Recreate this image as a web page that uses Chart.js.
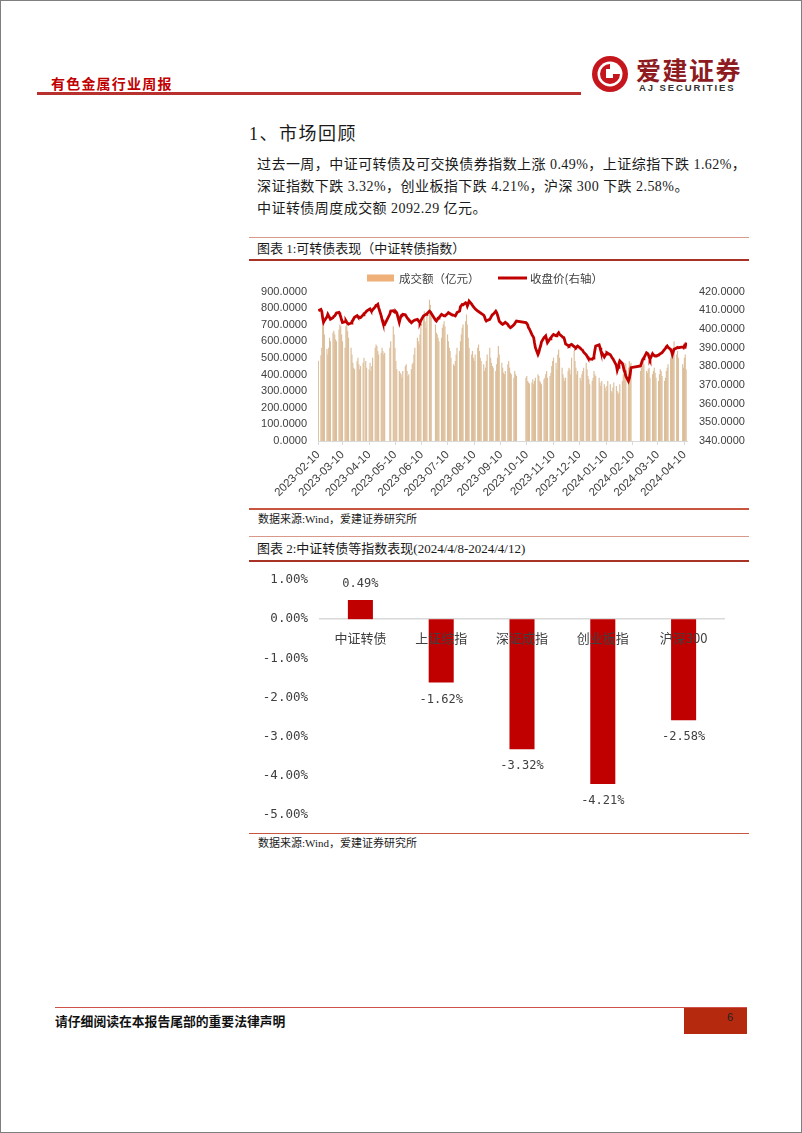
<!DOCTYPE html>
<html><head><meta charset="utf-8">
<script src="https://cdn.jsdelivr.net/npm/chart.js@4.4.0/dist/chart.umd.min.js"></script>
<style>
html,body{margin:0;padding:0;background:#fff;}
#page{position:absolute;left:0;top:0;width:800px;height:1131px;border:1px solid #7f7f7f;background:#fff;overflow:hidden;font-family:"Liberation Serif","Noto Sans CJK SC",serif;color:#1a1a1a;}
.a{position:absolute;white-space:nowrap;}
.cjk{font-family:"Noto Sans CJK SC",sans-serif;}
</style></head>
<body><div id="page">
<!-- header -->
<div class="a cjk" style="left:50px;top:73px;font-size:14px;line-height:18px;font-weight:700;color:#C00000;letter-spacing:1.2px;">有色金属行业周报</div>
<div class="a" style="left:36px;top:91px;width:544px;height:3px;background:#B8312F;"></div>
<svg class="a" style="left:590px;top:54px;" width="38" height="38" viewBox="0 0 38 38">
<circle cx="19" cy="19" r="18" fill="#C4161C"/>
<circle cx="19" cy="19" r="12.5" fill="#fff"/>
<path d="M19 9 A10 10 0 1 0 29 19 L22 19 L22 23 L15 23 L15 14 L19 14 Z" fill="#C4161C"/>
<rect x="18" y="17" width="3" height="3" fill="#fff"/>
</svg>
<div class="a cjk" style="left:635px;top:54px;font-size:25px;line-height:28px;font-weight:700;color:#8E1B1F;letter-spacing:1.5px;">爱建证券</div>
<div class="a" style="left:638px;top:81px;font-family:'Liberation Sans';font-size:9.5px;line-height:12px;font-weight:700;color:#333;letter-spacing:1.9px;">AJ SECURITIES</div>

<!-- section -->
<div class="a" style="left:248px;top:122px;font-size:18px;line-height:22px;letter-spacing:1.5px;">1、市场回顾</div>
<div class="a" style="left:256px;top:153px;font-size:14px;line-height:22px;letter-spacing:0.45px;">过去一周，中证可转债及可交换债券指数上涨 0.49%，上证综指下跌 1.62%，<br>深证指数下跌 3.32%，创业板指下跌 4.21%，沪深 300 下跌 2.58%。<br>中证转债周度成交额 2092.29 亿元。</div>

<!-- chart 1 header -->
<div class="a" style="left:248px;top:236px;width:500px;height:1px;background:#D9998A;"></div>
<div class="a" style="left:256px;top:240px;font-size:13px;line-height:16px;">图表 1:可转债表现（中证转债指数）</div>
<div class="a" style="left:248px;top:258px;width:500px;height:2px;background:#A93226;"></div>
<canvas id="c1" class="a" style="left:248px;top:262px;" width="500" height="243"></canvas>
<div class="a" style="left:248px;top:507px;width:500px;height:2px;background:#C8553D;"></div>
<div class="a" style="left:257px;top:511px;font-size:11px;line-height:14px;">数据来源:Wind，爱建证券研究所</div>

<!-- chart 2 header -->
<div class="a" style="left:248px;top:535px;width:500px;height:1px;background:#D9998A;"></div>
<div class="a" style="left:256px;top:540px;font-size:13px;line-height:16px;">图表 2:中证转债等指数表现(2024/4/8-2024/4/12)</div>
<div class="a" style="left:248px;top:559px;width:500px;height:2px;background:#A93226;"></div>
<canvas id="c2" class="a" style="left:248px;top:562px;" width="500" height="270"></canvas>
<div class="a" style="left:248px;top:832px;width:500px;height:1px;background:#C8553D;"></div>
<div class="a" style="left:257px;top:835px;font-size:11px;line-height:14px;">数据来源:Wind，爱建证券研究所</div>

<!-- footer -->
<div class="a" style="left:54px;top:1006px;width:692px;height:1px;background:#D0504A;"></div>
<div class="a cjk" style="left:54px;top:1012px;font-size:12.8px;line-height:16px;font-weight:700;color:#111;">请仔细阅读在本报告尾部的重要法律声明</div>
<div class="a" style="left:683px;top:1007px;width:63px;height:26px;background:#B5290F;"></div>
<div class="a" style="left:726px;top:1009px;font-family:'Liberation Sans';font-size:11px;line-height:14px;color:#222;">6</div>
</div>

<script>
// ---------- Chart 1 data ----------
const tradeStart = '2023-02-10';
const tradeEnd = '2024-04-12';
const marketHolidays = ['2023-04-05','2023-05-01','2023-05-02','2023-05-03','2023-06-22','2023-06-23',
  '2023-09-29','2023-10-02','2023-10-03','2023-10-04','2023-10-05','2023-10-06','2024-01-01',
  '2024-02-09','2024-02-12','2024-02-13','2024-02-14','2024-02-15','2024-02-16','2024-04-04','2024-04-05'];
const xTickLabels = ['2023-02-10','2023-03-10','2023-04-10','2023-05-10','2023-06-10','2023-07-10','2023-08-10',
  '2023-09-10','2023-10-10','2023-11-10','2023-12-10','2024-01-10','2024-02-10','2024-03-10','2024-04-10'];
const volumeLegend = '成交额（亿元）';
const closeLegend = '收盘价(右轴）';
// 成交额（亿元）, one value per trading day
const volume = [
  482,515,560,690,712,640,552,520,560,620,600,650,663,
  640,610,600,670,700,690,640,600,560,690,700,660,620,560,520,470,440,430,480,500,460,430,450,
  470,500,480,440,430,470,420,450,500,560,580,570,540,520,530,560,540,520,530,
  560,600,690,640,560,480,430,420,410,400,380,420,450,460,420,390,400,430,460,470,
  520,560,620,600,580,640,700,740,780,720,680,760,850,820,780,700,650,640,620,600,
  620,680,700,720,690,640,600,560,540,500,460,450,480,520,560,540,600,640,680,700,720,
  760,700,620,560,520,540,500,480,520,560,580,540,500,480,460,420,440,480,520,560,500,470,450,
  440,420,460,500,570,520,470,440,410,400,420,460,480,440,410,400,380,420,400,390,
  380,390,360,350,345,350,370,340,360,380,400,390,360,350,340,370,380,
  400,420,380,390,410,450,480,500,470,430,520,550,500,440,400,380,360,380,420,440,430,400,
  500,540,480,440,400,420,380,360,400,420,440,470,430,390,370,340,360,380,420,400,390,
  380,350,330,360,340,320,300,330,360,340,300,290,320,350,330,300,280,290,340,360,400,430,
  470,460,440,480,460,470,420,440,450,480,460,420,410,430,440,
  380,400,420,440,410,380,360,400,430,420,390,360,380,420,440,460,500,520,540,560,600,
  520,540,500,460,440,500,520,430
];
// 收盘价（右轴）
const closePrice = [
  409.8,410.5,409.5,406.0,403.6,404.5,406.5,407.9,407.0,406.2,405.2,406.0,406.8,
  407.0,407.8,408.6,408.9,407.9,406.5,404.8,403.5,403.9,404.4,403.6,403.0,402.6,403.2,404.0,404.6,405.5,406.3,407.2,406.6,405.9,406.3,406.1,
  407.6,408.2,409.0,409.6,410.5,410.8,410.0,409.6,410.3,411.9,412.6,412.8,413.2,411.5,407.0,405.0,403.4,402.8,402.5,
  408.0,409.6,409.8,409.3,409.0,409.3,408.8,403.6,405.5,407.0,407.5,407.9,407.6,406.8,406.1,405.5,405.0,403.4,403.8,404.3,
  404.3,404.8,405.2,404.6,403.8,403.4,404.5,407.0,407.3,407.6,407.9,408.2,409.6,409.2,408.4,404.8,404.3,405.0,405.8,406.1,
  407.9,407.6,407.3,407.0,407.1,408.2,408.8,408.5,408.2,407.9,407.4,407.2,407.0,407.8,408.8,409.6,412.0,412.6,413.2,413.0,414.1,
  413.8,412.3,413.5,415.0,413.4,412.6,412.0,411.4,410.8,409.6,409.4,409.0,408.8,408.4,407.4,406.5,405.0,404.3,404.6,405.2,406.0,406.9,407.6,
  407.9,409.6,408.8,407.5,406.0,404.2,402.8,402.5,402.8,403.2,403.6,402.5,401.6,401.2,400.7,401.0,402.2,402.9,403.6,404.3,
  403.4,403.0,402.2,400.7,400.0,397.0,396.2,395.4,392.5,390.0,386.4,387.5,389.5,390.9,393.0,395.4,395.8,
  396.3,394.5,392.7,394.8,395.4,396.0,396.6,397.1,396.4,396.6,397.4,398.0,397.2,396.0,395.6,395.4,394.0,392.0,391.2,390.9,391.3,391.6,
  391.8,390.6,390.2,390.0,390.5,390.9,389.8,389.3,389.1,388.4,387.6,386.2,385.4,384.6,384.2,384.0,383.8,384.4,385.5,388.5,390.9,
  391.5,390.0,388.2,387.5,385.0,385.8,386.6,387.3,387.0,386.2,385.5,384.6,384.0,383.2,380.5,378.0,379.5,381.5,382.9,381.5,380.0,377.8,
  376.8,374.8,372.1,373.5,375.7,379.3,380.2,381.5,383.0,384.0,384.6,387.3,387.0,386.4,385.0,
  383.8,386.8,386.2,385.8,385.5,385.6,386.0,386.4,386.8,387.0,387.3,389.1,389.6,390.4,390.9,390.2,389.1,388.0,386.4,387.8,389.1,
  389.8,390.2,390.0,390.4,390.0,391.0,390.6,392.7
];

// ---------- Chart 2 data ----------
const idxCategories = ['中证转债','上证综指','深证成指','创业板指','沪深300'];
const idxChange = [0.49, -1.62, -3.32, -4.21, -2.58];

// ---------- build date positions ----------
function dayNum(s){const p=s.split('-').map(Number);return Date.UTC(p[0],p[1]-1,p[2])/864e5;}
const d0 = dayNum(tradeStart), d1 = dayNum(tradeEnd);
const hol = new Set(marketHolidays.map(dayNum));
const tradeDays = [];
for (let d = d0; d <= d1; d++) {
  const wd = new Date(d*864e5).getUTCDay();
  if (wd === 0 || wd === 6 || hol.has(d)) continue;
  tradeDays.push(d - d0);
}
const n = Math.min(tradeDays.length, volume.length, closePrice.length);
const volPts = [], closePts = [];
for (let i = 0; i < n; i++) { volPts.push({x: tradeDays[i], y: volume[i]}); closePts.push({x: tradeDays[i], y: closePrice[i]}); }
const tickVals = xTickLabels.map(s => dayNum(s) - d0);
const tickMap = {}; tickVals.forEach((v,i)=>tickMap[v]=xTickLabels[i]);

const axisFont = {family:'Liberation Sans', size:11};
const axisColor = '#404040';

const legend1 = {
  id:'legend1',
  afterDraw(chart){
    const ctx = chart.ctx; ctx.save();
    const cy = 15;
    ctx.fillStyle = '#F0B07A'; ctx.fillRect(118, cy-3.5, 27, 7);
    ctx.strokeStyle = '#C00000'; ctx.lineWidth = 3; ctx.beginPath(); ctx.moveTo(249, cy); ctx.lineTo(278, cy); ctx.stroke();
    ctx.font = '11.5px "Noto Sans CJK SC"'; ctx.fillStyle = '#404040'; ctx.textBaseline = 'middle';
    ctx.fillText(volumeLegend, 150, cy+0.5);
    ctx.fillText(closeLegend, 281, cy+0.5);
    ctx.restore();
  }
};

new Chart(document.getElementById('c1'), {
  type: 'bar',
  data: { datasets: [
    {type:'line', label:closeLegend, data:closePts, yAxisID:'y1', borderColor:'#C00000', borderWidth:2.8, pointRadius:0, tension:0, order:0},
    {type:'bar', label:volumeLegend, data:volPts, yAxisID:'y', backgroundColor:'#DCBE9A', barThickness:0.5, order:1}
  ]},
  options: {
    responsive:false, animation:false, events:[],
    layout:{padding:{top:28.7,left:0,right:0,bottom:0}},
    plugins:{legend:{display:false}, tooltip:{enabled:false}},
    scales:{
      x:{type:'linear', min:-0.4, max:428, offset:false,
        grid:{display:true, drawOnChartArea:false, drawTicks:true, tickLength:4, color:'#d9d9d9', offset:false},
        border:{display:true, color:'#d9d9d9', width:1},
        afterBuildTicks:(s)=>{ s.ticks = tickVals.map(v=>({value:v})); },
        ticks:{autoSkip:false, minRotation:45, maxRotation:45, padding:3, font:{family:'Liberation Sans', size:11.5}, color:axisColor,
          callback:(v)=>tickMap[v] || ''},
        afterFit:(s)=>{ s.height = 65; }},
      y:{position:'left', min:0, max:900, grid:{display:false}, border:{display:false},
        ticks:{stepSize:100, padding:3, font:axisFont, color:axisColor, callback:(v)=>Number(v).toFixed(4)},
        afterFit:(s)=>{ s.width = 69; }},
      y1:{position:'right', min:340, max:420, grid:{display:false}, border:{display:false},
        ticks:{stepSize:10, padding:4, font:axisFont, color:axisColor, callback:(v)=>Number(v).toFixed(4)},
        afterFit:(s)=>{ s.width = 62; }}
    }
  },
  plugins:[legend1]
});

const valueLabels = {
  id:'valueLabels',
  afterDatasetsDraw(chart){
    const ctx = chart.ctx; ctx.save();
    ctx.font = '12px "DejaVu Sans Mono"'; ctx.fillStyle = '#404040';
    ctx.textAlign = 'center'; ctx.textBaseline = 'middle';
    chart.getDatasetMeta(0).data.forEach((el,i)=>{
      const v = idxChange[i];
      const y = v >= 0 ? el.y - 16 : el.y + 17;
      ctx.fillText(v.toFixed(2)+'%', el.x, y);
    });
    ctx.restore();
  }
};

new Chart(document.getElementById('c2'), {
  type:'bar',
  data:{labels:idxCategories, datasets:[{data:idxChange, backgroundColor:'#C00000', barPercentage:0.31, categoryPercentage:1}]},
  options:{
    responsive:false, animation:false, events:[],
    layout:{padding:{top:17,bottom:18,right:25,left:0}},
    plugins:{legend:{display:false}, tooltip:{enabled:false}},
    scales:{
      x:{position:{y:0},
        grid:{drawOnChartArea:false, drawTicks:false, color:'rgba(0,0,0,0)'},
        border:{display:true, color:'#d9d9d9', width:1.5},
        ticks:{z:1, padding:11, font:{family:'Noto Sans CJK SC', size:13}, color:'#404040'}},
      y:{min:-5, max:1, grid:{display:false}, border:{display:false},
        ticks:{stepSize:1, padding:4, font:{family:'DejaVu Sans Mono', size:12.5}, color:'#404040',
          callback:(v)=>Number(v).toFixed(2)+'%'},
        afterFit:(s)=>{ s.width = 71; }}
    }
  },
  plugins:[valueLabels]
});
</script>
</body></html>
